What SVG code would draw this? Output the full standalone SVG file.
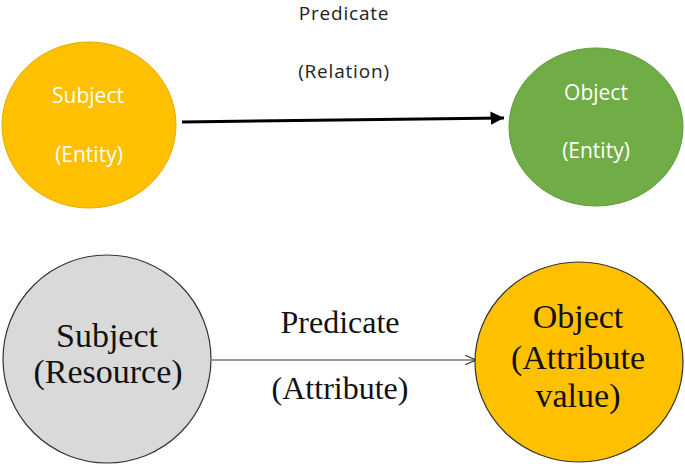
<svg xmlns="http://www.w3.org/2000/svg" width="685" height="468" viewBox="0 0 685 468">
<defs>
<marker id="fillArrow" viewBox="0 0 10 10" refX="10" refY="5" markerWidth="4.5" markerHeight="4.5" orient="auto" markerUnits="strokeWidth">
<path d="M0,0 L10,5 L0,10 Z" fill="#000"/>
</marker>
<marker id="openArrow" viewBox="0 0 10 10" refX="10" refY="5" markerWidth="10" markerHeight="10" orient="auto" markerUnits="strokeWidth">
<path d="M1,1 L10,5 L1,9" fill="none" stroke="#333" stroke-width="1"/>
</marker>
<style>
.sans{font-family:"Open Sans",Lato,"Liberation Sans",sans-serif;text-anchor:middle}
.white{fill:#fff;font-size:21px}
.lbl{fill:#222;font-size:19px;letter-spacing:0.8px}
.serif{font-family:"Liberation Serif","DejaVu Serif",serif;text-anchor:middle;fill:#111}
.big{font-size:34px}
.mid{font-size:32px}
</style>
</defs>
<rect width="685" height="468" fill="#fff"/>
<g id="connectors">
<line x1="182" y1="122" x2="504" y2="118" stroke="#000" stroke-width="3" marker-end="url(#fillArrow)"/>
<line x1="212" y1="360" x2="476" y2="360" stroke="#333" stroke-width="1.2" marker-end="url(#openArrow)"/>
<text class="sans lbl" x="344" y="20">Predicate</text>
<text class="sans lbl" x="344" y="78">(Relation)</text>
<text class="serif mid" x="340" y="333">Predicate</text>
<text class="serif mid" x="340" y="399">(Attribute)</text>
</g>
<g id="subject-entity">
<ellipse cx="89" cy="125" rx="87" ry="83" fill="#ffc000" stroke="#e6ad00" stroke-width="1"/>
<text class="sans white" x="88" y="103">Subject</text>
<text class="sans white" x="89" y="162">(Entity)</text>
</g>
<g id="object-entity">
<ellipse cx="596" cy="127" rx="87" ry="79" fill="#70ad47" stroke="#5e9a3a" stroke-width="1"/>
<text class="sans white" x="596" y="100">Object</text>
<text class="sans white" x="596" y="158">(Entity)</text>
</g>
<g id="subject-resource">
<ellipse cx="107" cy="359" rx="104" ry="104" fill="#d9d9d9" stroke="#333" stroke-width="1.2"/>
<text class="serif big" x="107" y="347">Subject</text>
<text class="serif big" x="108" y="383">(Resource)</text>
</g>
<g id="object-attribute">
<ellipse cx="579" cy="362" rx="104" ry="100" fill="#ffc000" stroke="#333" stroke-width="1.2"/>
<text class="serif big" x="578" y="328">Object</text>
<text class="serif big" x="578" y="369">(Attribute</text>
<text class="serif big" x="578" y="407">value)</text>
</g>
</svg>
